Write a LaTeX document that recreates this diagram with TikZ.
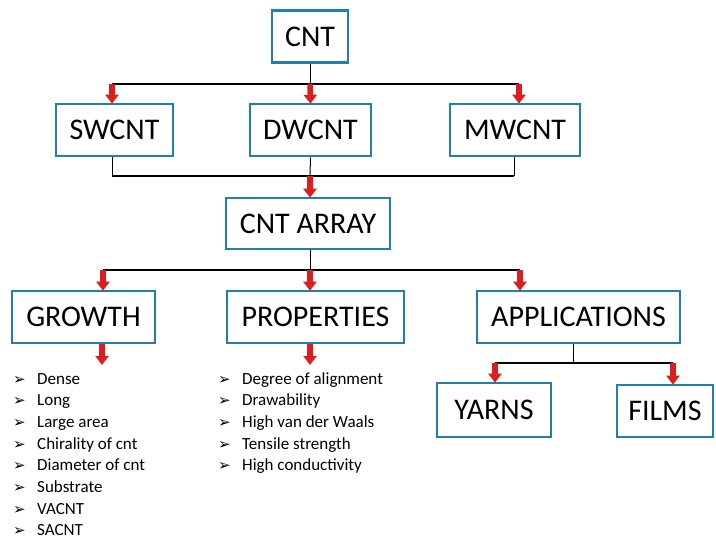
\documentclass[tikz,border=0pt]{standalone}
\usepackage{fontspec}
\setmainfont{Carlito}
\newfontfamily\symfont{DejaVu Sans}
\usetikzlibrary{arrows.meta}
\definecolor{boxblue}{RGB}{32,128,172}
\definecolor{arrred}{RGB}{222,30,30}
\tikzset{
  box/.style={draw=boxblue, line width=2.6pt, fill=white, inner sep=0pt,
    minimum height=52pt, font=\fontsize{30}{33}\selectfont},
  bus/.style={draw=black, line width=2.2pt},
  thinline/.style={draw=black, line width=1pt},
  redarr/.style={draw=arrred, line width=5.5pt, -{Triangle[width=13pt,length=9pt]}, shorten >=-1pt},
  listitem/.style={anchor=base west, inner sep=0pt, font=\fontsize{17}{20}\selectfont},
  bullet/.style={anchor=base west, inner sep=0pt, font=\symfont\fontsize{15}{17}\selectfont}
}
\begin{document}
\begin{tikzpicture}[x=1pt,y=-1pt]
\useasboundingbox (0,0) rectangle (716,542);
% boxes
\node[box, minimum width=76pt] (cnt) at (310,36.5) {CNT};
\node[box, minimum width=117pt] (sw) at (114.5,130) {SWCNT};
\node[box, minimum width=121pt] (dw) at (310.5,130) {DWCNT};
\node[box, minimum width=130pt] (mw) at (515,130) {MWCNT};
\node[box, minimum width=164pt, minimum height=51pt] (arr) at (308,223.5) {CNT ARRAY};
\node[box, minimum width=143pt] (gr) at (83.5,317) {GROWTH};
\node[box, minimum width=177pt] (pr) at (315.5,317) {PROPERTIES};
\node[box, minimum width=203pt] (ap) at (578.5,317) {APPLICATIONS};
\node[box, minimum width=114pt, minimum height=54pt] (ya) at (494,410) {YARNS};
\node[box, minimum width=96pt] (fi) at (665,411) {FILMS};
% level 1
\coordinate (b1) at (310,84);
\coordinate (b1l) at (112,84);
\coordinate (b1r) at (519,84);
\draw[thinline] (cnt.south) -- (b1);
\draw[bus] (b1l) -- (b1r);
\draw[redarr] (b1l) -- (b1l |- sw.north);
\draw[redarr] (b1) -- (dw.north);
\draw[redarr] (b1r) -- (b1r |- mw.north);
% level 2
\coordinate (b2) at (310,176);
\coordinate (b2l) at (112,176);
\coordinate (b2r) at (514,176);
\draw[thinline] (b2l |- sw.south) -- (b2l);
\draw[thinline] (b2r |- mw.south) -- (b2r);
\draw[thinline] (dw.south) -- (b2);
\draw[bus] (b2l) -- (b2r);
\draw[redarr] (b2) -- (b2 |- arr.north);
% level 3
\coordinate (b3) at (310,270);
\coordinate (b3l) at (103,270);
\coordinate (b3r) at (520,270);
\draw[thinline] (b3 |- arr.south) -- (b3);
\draw[bus] (b3l) -- (b3r);
\draw[redarr] (b3l) -- (b3l |- gr.north);
\draw[redarr] (b3) -- (b3 |- pr.north);
\draw[redarr] (b3r) -- (b3r |- ap.north);
% list arrows
\coordinate (ga) at (102,364);
\coordinate (pa) at (310,364);
\draw[redarr] (ga |- gr.south) -- (ga);
\draw[redarr] (pa |- pr.south) -- (pa);
% applications
\coordinate (b4) at (573,363);
\coordinate (b4l) at (495,363);
\coordinate (b4r) at (673,363);
\draw[thinline] (b4 |- ap.south) -- (b4);
\draw[bus] (b4l) -- (b4r);
\draw[redarr] (b4l) -- (b4l |- ya.north);
\draw[redarr] (b4r) -- (b4r |- fi.north);
% growth list
\foreach \t [count=\i from 0] in {Dense,Long,Large area,Chirality of cnt,Diameter of cnt,Substrate,VACNT,SACNT}{
  \node[bullet] (gb\i) at (13,384+21.7*\i) {➢};
  \node[listitem] (gt\i) at (37,384+21.7*\i) {\t};
}
% properties list
\foreach \t [count=\i from 0] in {Degree of alignment,Drawability,High van der Waals,Tensile strength,High conductivity}{
  \node[bullet] (pb\i) at (218,384+21.7*\i) {➢};
  \node[listitem] (pt\i) at (242,384+21.7*\i) {\t};
}
\end{tikzpicture}
\end{document}
